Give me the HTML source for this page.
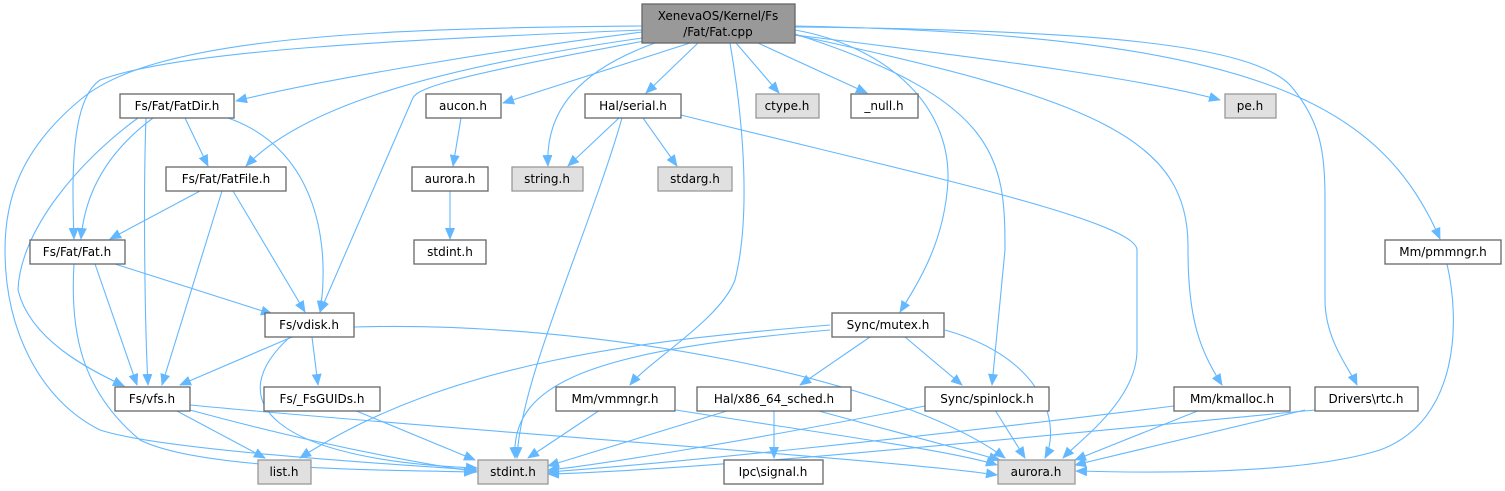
<!DOCTYPE html>
<html><head><meta charset="utf-8"><style>
html,body{margin:0;padding:0;background:#fff;width:1505px;height:491px;overflow:hidden}
text{font-family:"DejaVu Sans","Liberation Sans",sans-serif;font-size:12px;fill:#000;text-anchor:middle}
.n{fill:#fff;stroke:#666;stroke-width:1.3}
.g{fill:#e0e0e0;stroke:#999;stroke-width:1.3}
.e{fill:none;stroke:#63b8ff;stroke-width:1.1;marker-end:url(#a)}
</style></head><body>
<svg width="1505" height="491" viewBox="0 0 1505 491" xmlns="http://www.w3.org/2000/svg">
<defs><marker id="a" markerWidth="12" markerHeight="10" refX="11" refY="5" orient="auto" markerUnits="userSpaceOnUse"><path d="M0,0 L12,5 L0,10 z" fill="#63b8ff"/></marker></defs>
<g>
<path class="e" d="M642,32 C500,50 320,80 236,101"/>
<path class="e" d="M690,43 L503,103"/>
<path class="e" d="M698,43 L646,93"/>
<path class="e" d="M736,43 L779,93"/>
<path class="e" d="M758,43 L867,93"/>
<path class="e" d="M795,35 C1000,60 1150,80 1220,100"/>
<path class="e" d="M655,43 C580,70 545,110 548,166"/>
<path class="e" d="M642,38 C420,70 300,110 246,166"/>
<path class="e" d="M642,30 C400,40 180,50 100,80 C70,100 72,180 74,239"/>
<path class="e" d="M650,40 C430,80 415,90 412,100 L320,312"/>
<path class="e" d="M642,26 C350,28 150,40 80,100 C20,150 5,200 5,250 C5,330 40,400 100,430 C160,450 400,465 477,470"/>
<path class="e" d="M730,43 C745,130 750,220 735,280 C720,320 650,360 630,385"/>
<path class="e" d="M795,30 C880,45 950,100 948,180 C945,240 920,280 900,312"/>
<path class="e" d="M795,34 C1000,100 1005,160 1005,250 L992,385"/>
<path class="e" d="M795,35 C1100,100 1190,140 1188,250 C1188,320 1200,350 1222,385"/>
<path class="e" d="M795,27 C1100,30 1250,45 1290,85 C1320,120 1325,150 1325,200 L1325,300 C1325,340 1350,370 1357,385"/>
<path class="e" d="M795,26 C1250,35 1380,100 1440,239"/>
<path class="e" d="M185,118 L208,166"/>
<path class="e" d="M153,118 C110,150 85,190 81,239"/>
<path class="e" d="M146,118 C143,200 145,330 148,385"/>
<path class="e" d="M228,118 C320,150 330,250 320,312"/>
<path class="e" d="M138,118 C80,160 20,230 18,290 C30,340 90,370 124,386"/>
<path class="e" d="M200,191 L110,239"/>
<path class="e" d="M222,191 L162,385"/>
<path class="e" d="M233,191 L305,312"/>
<path class="e" d="M115,264 L272,314"/>
<path class="e" d="M95,264 L137,385"/>
<path class="e" d="M74,264 C70,330 80,390 140,440 C200,470 380,470 475,472"/>
<path class="e" d="M461,118 L453,166"/>
<path class="e" d="M450,191 L450,239"/>
<path class="e" d="M619,118 L568,166"/>
<path class="e" d="M643,118 L677,166"/>
<path class="e" d="M622,118 C590,230 520,380 517,458"/>
<path class="e" d="M681,115 C900,170 1137,220 1137,250 L1137,350 C1137,400 1080,440 1063,458"/>
<path class="e" d="M292,337 L180,385"/>
<path class="e" d="M312,337 L318,385"/>
<path class="e" d="M290,337 C220,400 270,460 477,468"/>
<path class="e" d="M354,327 C600,320 900,380 1005,458"/>
<path class="e" d="M175,410 L265,458"/>
<path class="e" d="M190,410 C300,440 400,460 477,472"/>
<path class="e" d="M190,405 C450,430 900,460 997,475"/>
<path class="e" d="M354,410 L475,460"/>
<path class="e" d="M830,325 C650,340 450,360 300,458"/>
<path class="e" d="M830,330 C600,350 510,380 515,458"/>
<path class="e" d="M870,337 L800,385"/>
<path class="e" d="M905,337 L962,385"/>
<path class="e" d="M945,330 C1050,360 1060,430 1045,458"/>
<path class="e" d="M600,410 L528,458"/>
<path class="e" d="M676,410 C800,430 950,450 997,465"/>
<path class="e" d="M730,410 L548,466"/>
<path class="e" d="M774,410 L774,458"/>
<path class="e" d="M815,410 L1000,460"/>
<path class="e" d="M925,406 C750,440 600,465 548,470"/>
<path class="e" d="M995,410 L1025,458"/>
<path class="e" d="M1174,406 C900,440 650,465 548,472"/>
<path class="e" d="M1200,410 L1075,460"/>
<path class="e" d="M1315,410 C1000,440 700,470 548,474"/>
<path class="e" d="M1305,410 L1075,465"/>
<path class="e" d="M1447,264 C1460,320 1460,420 1380,450 C1300,475 1150,473 1076,471"/>
</g>
<rect x="642" y="4" width="153" height="39" fill="#999" stroke="#666" stroke-width="1.3"/>
<text x="718" y="20">XenevaOS/Kernel/Fs</text><text x="718" y="36">/Fat/Fat.cpp</text>
<rect class="n" x="120" y="94" width="114" height="24"/><text x="177" y="110">Fs/Fat/FatDir.h</text>
<rect class="n" x="426" y="94" width="75" height="24"/><text x="463" y="110">aucon.h</text>
<rect class="n" x="585" y="94" width="96" height="24"/><text x="633" y="110">Hal/serial.h</text>
<rect class="g" x="756" y="94" width="63" height="24"/><text x="787" y="110">ctype.h</text>
<rect class="n" x="851" y="94" width="67" height="24"/><text x="884" y="110">_null.h</text>
<rect class="g" x="1225" y="94" width="51" height="24"/><text x="1250" y="110">pe.h</text>
<rect class="n" x="166" y="167" width="120" height="24"/><text x="226" y="183">Fs/Fat/FatFile.h</text>
<rect class="n" x="412" y="167" width="76" height="24"/><text x="450" y="183">aurora.h</text>
<rect class="g" x="512" y="167" width="71" height="24"/><text x="547" y="183">string.h</text>
<rect class="g" x="658" y="167" width="74" height="24"/><text x="695" y="183">stdarg.h</text>
<rect class="n" x="414" y="240" width="72" height="24"/><text x="450" y="256">stdint.h</text>
<rect class="n" x="30" y="240" width="95" height="24"/><text x="77" y="256">Fs/Fat/Fat.h</text>
<rect class="n" x="1385" y="240" width="116" height="24"/><text x="1443" y="256">Mm/pmmngr.h</text>
<rect class="n" x="265" y="313" width="89" height="24"/><text x="309" y="329">Fs/vdisk.h</text>
<rect class="n" x="832" y="313" width="112" height="24"/><text x="888" y="329">Sync/mutex.h</text>
<rect class="n" x="115" y="387" width="75" height="24"/><text x="152" y="403">Fs/vfs.h</text>
<rect class="n" x="264" y="387" width="116" height="24"/><text x="322" y="403">Fs/_FsGUIDs.h</text>
<rect class="n" x="556" y="387" width="119" height="24"/><text x="615" y="403">Mm/vmmngr.h</text>
<rect class="n" x="697" y="387" width="154" height="24"/><text x="774" y="403">Hal/x86_64_sched.h</text>
<rect class="n" x="925" y="387" width="124" height="24"/><text x="987" y="403">Sync/spinlock.h</text>
<rect class="n" x="1174" y="387" width="116" height="24"/><text x="1232" y="403">Mm/kmalloc.h</text>
<rect class="n" x="1315" y="387" width="103" height="24"/><text x="1366" y="403">Drivers\rtc.h</text>
<rect class="g" x="258" y="460" width="53" height="24"/><text x="284" y="476">list.h</text>
<rect class="g" x="478" y="460" width="70" height="24"/><text x="513" y="476">stdint.h</text>
<rect class="n" x="724" y="460" width="99" height="24"/><text x="773" y="476">Ipc\signal.h</text>
<rect class="g" x="998" y="460" width="77" height="24"/><text x="1036" y="476">aurora.h</text>
</svg>
</body></html>
